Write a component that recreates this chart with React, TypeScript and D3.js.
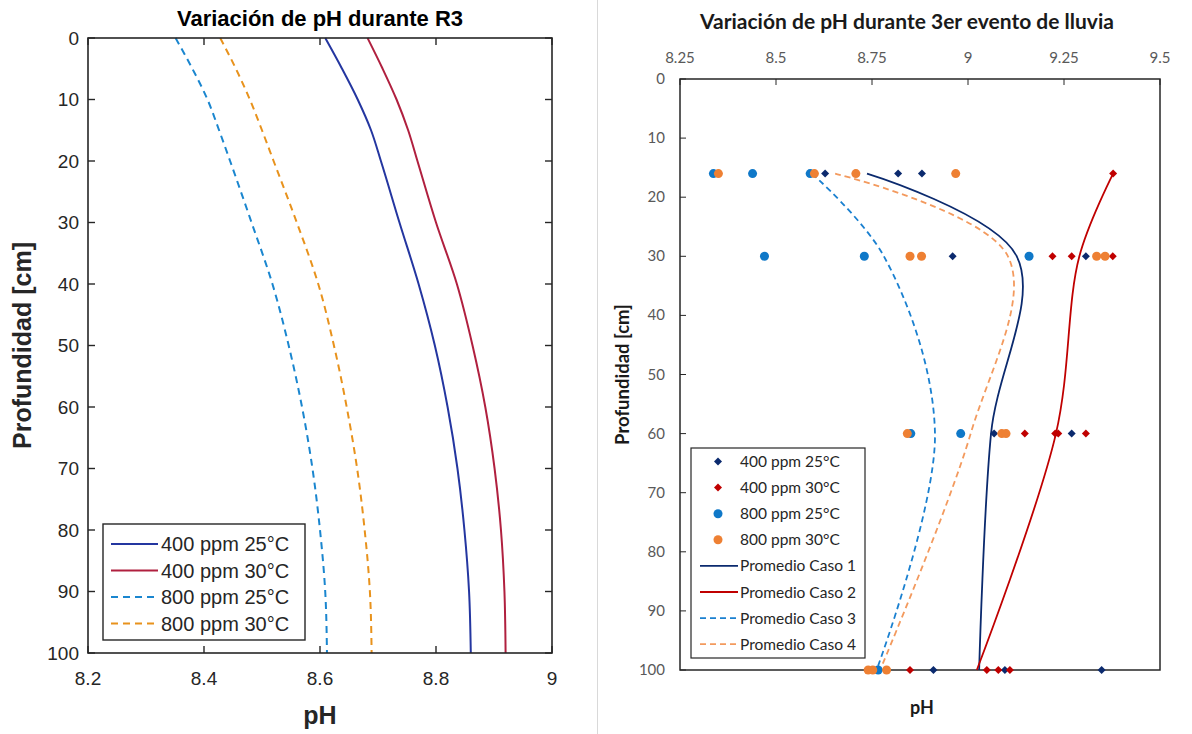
import React from "react";
import * as d3 from "d3";

// ---------- Left chart data (MATLAB style) ----------
const leftDepths = [0, 5, 10, 15, 20, 30, 40, 50, 60, 70, 80, 90, 100];
const left400_25 = [8.609, 8.638, 8.665, 8.688, 8.705, 8.737, 8.77, 8.798, 8.82, 8.837, 8.849, 8.857, 8.86];
const left400_30 = [8.682, 8.708, 8.732, 8.752, 8.768, 8.8, 8.836, 8.863, 8.885, 8.901, 8.912, 8.918, 8.92];
const left800_25 = [8.351, 8.38, 8.406, 8.426, 8.445, 8.482, 8.518, 8.546, 8.569, 8.587, 8.6, 8.609, 8.612];
const left800_30 = [8.428, 8.455, 8.479, 8.5, 8.52, 8.56, 8.597, 8.624, 8.646, 8.664, 8.677, 8.686, 8.689];
const leftXTicks = [8.2, 8.4, 8.6, 8.8, 9];
const leftYTicks = [0, 10, 20, 30, 40, 50, 60, 70, 80, 90, 100];
const leftLegend = ["400 ppm 25°C", "400 ppm 30°C", "800 ppm 25°C", "800 ppm 30°C"];

// ---------- Right chart data (Excel style) ----------
const pts400_25_depth = [16, 16, 16, 30, 30, 60, 60, 100, 100, 100];
const pts400_25_ph = [8.628, 8.818, 8.88, 8.96, 9.307, 9.068, 9.27, 8.91, 9.096, 9.348];
const pts400_30_depth = [16, 30, 30, 30, 60, 60, 60, 60, 100, 100, 100, 100];
const pts400_30_ph = [9.378, 9.22, 9.27, 9.377, 9.148, 9.227, 9.235, 9.307, 8.849, 9.049, 9.079, 9.109];
const pts800_25_depth = [16, 16, 16, 30, 30, 30, 60, 60, 100];
const pts800_25_ph = [8.337, 8.439, 8.589, 8.47, 8.73, 9.159, 8.851, 8.981, 8.766];
const pts800_30_depth = [16, 16, 16, 16, 30, 30, 30, 30, 60, 60, 60, 100, 100, 100];
const pts800_30_ph = [8.35, 8.6, 8.708, 8.968, 8.849, 8.879, 9.335, 9.357, 8.842, 9.088, 9.099, 8.74, 8.752, 8.788];
const avgDepths = [16, 30, 60, 100];
const avgCaso1 = [8.737, 9.127, 9.06, 9.029];
const avgCaso2 = [9.378, 9.29, 9.229, 9.023];
const avgCaso3 = [8.594, 8.781, 8.914, 8.762];
const avgCaso4 = [8.654, 9.104, 9.007, 8.771];
const rightXTicks = [8.25, 8.5, 8.75, 9, 9.25, 9.5];
const rightYTicks = [0, 10, 20, 30, 40, 50, 60, 70, 80, 90, 100];
const rightLegend = ["400 ppm 25°C", "400 ppm 30°C", "800 ppm 25°C", "800 ppm 30°C", "Promedio Caso 1", "Promedio Caso 2", "Promedio Caso 3", "Promedio Caso 4"];

const LFONT = "'Liberation Sans', Arial, Helvetica, sans-serif";
const RFONT = "Lato, 'Open Sans', sans-serif";

function LeftChart() {
  const x0 = 88, x1 = 552, y0 = 38, y1 = 653;
  const x = d3.scaleLinear().domain([8.2, 9]).range([x0, x1]);
  const y = d3.scaleLinear().domain([0, 100]).range([y0, y1]);
  const line = d3
    .line<[number, number]>()
    .x((d) => x(d[0]))
    .y((d) => y(d[1]))
    .curve(d3.curveMonotoneY);
  const series = [
    { vals: left400_25, color: "#2436a0", dash: "" },
    { vals: left400_30, color: "#b0203f", dash: "" },
    { vals: left800_25, color: "#1a86cf", dash: "7,5" },
    { vals: left800_30, color: "#e8921c", dash: "7,5" },
  ];
  const ink = "#262626";
  const tl = 7;
  return (
    <g>
      <text x={320} y={26} textAnchor="middle" fontFamily={LFONT} fontWeight="bold" fontSize={22} fill="#000">
        Variación de pH durante R3
      </text>
      {series.map((s, i) => (
        <path
          key={i}
          d={line(s.vals.map((v, j) => [v, leftDepths[j]] as [number, number])) || ""}
          fill="none"
          stroke={s.color}
          strokeWidth={2}
          strokeDasharray={s.dash || undefined}
        />
      ))}
      <rect x={x0} y={y0} width={x1 - x0} height={y1 - y0} fill="none" stroke={ink} strokeWidth={1.6} />
      {leftYTicks.map((t) => (
        <g key={"ly" + t}>
          <line x1={x0} x2={x0 + tl} y1={y(t)} y2={y(t)} stroke={ink} strokeWidth={1.4} />
          <line x1={x1} x2={x1 - tl} y1={y(t)} y2={y(t)} stroke={ink} strokeWidth={1.4} />
          <text x={x0 - 9} y={y(t) + 6.5} textAnchor="end" fontFamily={LFONT} fontSize={19} fill={ink}>
            {t}
          </text>
        </g>
      ))}
      {leftXTicks.map((t) => (
        <g key={"lx" + t}>
          <line x1={x(t)} x2={x(t)} y1={y0} y2={y0 + tl} stroke={ink} strokeWidth={1.4} />
          <line x1={x(t)} x2={x(t)} y1={y1} y2={y1 - tl} stroke={ink} strokeWidth={1.4} />
          <text x={x(t)} y={y1 + 32} textAnchor="middle" fontFamily={LFONT} fontSize={19} fill={ink}>
            {String(t)}
          </text>
        </g>
      ))}
      <text x={(x0 + x1) / 2} y={724} textAnchor="middle" fontFamily={LFONT} fontWeight="bold" fontSize={25} fill={ink}>
        pH
      </text>
      <text
        transform={`translate(31,${(y0 + y1) / 2}) rotate(-90)`}
        textAnchor="middle"
        fontFamily={LFONT}
        fontWeight="bold"
        fontSize={25}
        fill={ink}
      >
        Profundidad [cm]
      </text>
      <g>
        <rect x={103} y={524} width={202} height={116} fill="#fff" stroke={ink} strokeWidth={1.4} />
        {leftLegend.map((lab, i) => {
          const ly = 544 + i * 26.5;
          const s = series[i];
          return (
            <g key={lab}>
              <line x1={111} x2={158} y1={ly} y2={ly} stroke={s.color} strokeWidth={2} strokeDasharray={s.dash || undefined} />
              <text x={161} y={ly + 7} fontFamily={LFONT} fontSize={20} fill={ink}>
                {lab}
              </text>
            </g>
          );
        })}
      </g>
    </g>
  );
}

function Diamond({ cx, cy, fill }: { cx: number; cy: number; fill: string }) {
  const r = 4;
  return <path d={`M${cx},${cy - r}L${cx + r},${cy}L${cx},${cy + r}L${cx - r},${cy}Z`} fill={fill} />;
}

function RightChart() {
  const x0 = 680, x1 = 1160, y0 = 79, y1 = 670;
  const x = d3.scaleLinear().domain([8.25, 9.5]).range([x0, x1]);
  const y = d3.scaleLinear().domain([0, 100]).range([y0, y1]);
  const line = d3
    .line<[number, number]>()
    .x((d) => x(d[0]))
    .y((d) => y(d[1]))
    .curve(d3.curveCatmullRom.alpha(0.5));
  const navy = "#0b2a6e";
  const red = "#c00000";
  const blue = "#0f78c8";
  const orange = "#ee8033";
  const avgs = [
    { vals: avgCaso1, color: navy, dash: "" },
    { vals: avgCaso2, color: red, dash: "" },
    { vals: avgCaso3, color: "#1a80d0", dash: "6,4" },
    { vals: avgCaso4, color: "#f39a5e", dash: "6,4" },
  ];
  const ink = "#595959";
  const tl = 6;
  return (
    <g>
      <text x={907} y={29} textAnchor="middle" fontFamily={RFONT} fontWeight="bold" fontSize={21} fill="#1a1a1a">
        Variación de pH durante 3er evento de lluvia
      </text>
      <rect x={x0} y={y0} width={x1 - x0} height={y1 - y0} fill="#fff" stroke="#262626" strokeWidth={1.5} />
      {rightXTicks.map((t) => (
        <g key={"rx" + t}>
          <line x1={x(t)} x2={x(t)} y1={y0} y2={y0 + tl} stroke="#262626" strokeWidth={1} />
          <text x={x(t)} y={63} textAnchor="middle" fontFamily={RFONT} fontSize={15} fill={ink}>
            {String(t)}
          </text>
        </g>
      ))}
      {rightYTicks.map((t) => (
        <g key={"ry" + t}>
          <line x1={x0} x2={x0 + tl} y1={y(t)} y2={y(t)} stroke="#262626" strokeWidth={1} />
          <text x={665} y={y(t) + 5} textAnchor="end" fontFamily={RFONT} fontSize={15} fill={ink}>
            {t}
          </text>
        </g>
      ))}
      {avgs.map((s, i) => (
        <path
          key={"avg" + i}
          d={line(s.vals.map((v, j) => [v, avgDepths[j]] as [number, number])) || ""}
          fill="none"
          stroke={s.color}
          strokeWidth={1.8}
          strokeDasharray={s.dash || undefined}
        />
      ))}
      {pts400_25_ph.map((v, i) => (
        <Diamond key={"a" + i} cx={x(v)} cy={y(pts400_25_depth[i])} fill={navy} />
      ))}
      {pts400_30_ph.map((v, i) => (
        <Diamond key={"b" + i} cx={x(v)} cy={y(pts400_30_depth[i])} fill={red} />
      ))}
      {pts800_25_ph.map((v, i) => (
        <circle key={"c" + i} cx={x(v)} cy={y(pts800_25_depth[i])} r={4.5} fill={blue} />
      ))}
      {pts800_30_ph.map((v, i) => (
        <circle key={"d" + i} cx={x(v)} cy={y(pts800_30_depth[i])} r={4.5} fill={orange} />
      ))}
      <text x={922} y={714} textAnchor="middle" fontFamily={RFONT} fontWeight="bold" fontSize={18} fill="#1a1a1a">
        pH
      </text>
      <text
        transform={`translate(629,${(y0 + y1) / 2}) rotate(-90)`}
        textAnchor="middle"
        fontFamily={RFONT}
        fontWeight="bold"
        fontSize={18.5}
        fill="#1a1a1a"
      >
        Profundidad [cm]
      </text>
      <g>
        <rect x={691} y={448} width={174} height={210} fill="#fff" stroke="#262626" strokeWidth={1.2} />
        {rightLegend.map((lab, i) => {
          const ly = 461.5 + i * 26.1;
          let mark: React.ReactNode;
          if (i === 0) mark = <Diamond cx={718} cy={ly} fill={navy} />;
          else if (i === 1) mark = <Diamond cx={718} cy={ly} fill={red} />;
          else if (i === 2) mark = <circle cx={718} cy={ly} r={4.5} fill={blue} />;
          else if (i === 3) mark = <circle cx={718} cy={ly} r={4.5} fill={orange} />;
          else {
            const s = avgs[i - 4];
            mark = <line x1={700} x2={738} y1={ly} y2={ly} stroke={s.color} strokeWidth={1.8} strokeDasharray={s.dash || undefined} />;
          }
          return (
            <g key={lab}>
              {mark}
              <text x={740} y={ly + 5.5} fontFamily={RFONT} fontSize={15.5} fill="#262626">
                {lab}
              </text>
            </g>
          );
        })}
      </g>
    </g>
  );
}

export default function App() {
  return (
    <svg
      width={1192}
      height={734}
      style={{ position: "absolute", left: 0, top: 0, background: "#fff" }}
      xmlns="http://www.w3.org/2000/svg"
    >
      <rect x={0} y={0} width={1192} height={734} fill="#fff" />
      <line x1={597.5} x2={597.5} y1={0} y2={734} stroke="#d9d9d9" strokeWidth={1} />
      <LeftChart />
      <RightChart />
    </svg>
  );
}
